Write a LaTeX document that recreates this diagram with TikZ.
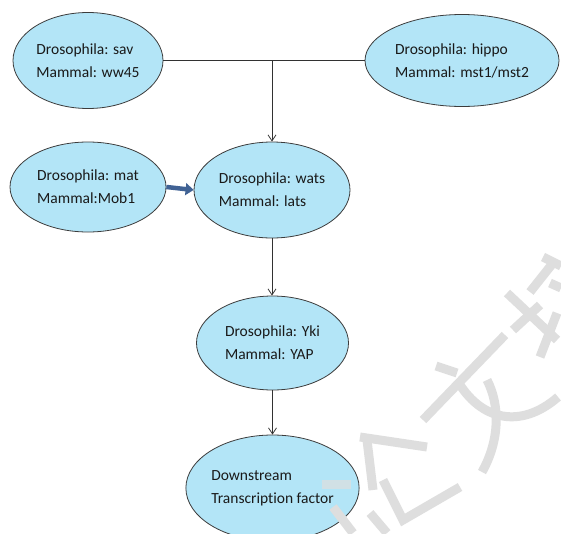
\documentclass[tikz,border=0pt]{standalone}
\usepackage{fontspec}
\setmainfont[Ligatures={NoCommon}]{Carlito}
\usetikzlibrary{shapes.geometric,arrows.meta}
\definecolor{ellfill}{RGB}{179,229,247}
\definecolor{ellline}{RGB}{60,60,60}
\definecolor{connline}{RGB}{50,50,50}
\definecolor{thickarrow}{RGB}{64,98,148}
\definecolor{wmgray}{RGB}{222,222,222}
\definecolor{txt}{RGB}{25,25,25}
\begin{document}
\begin{tikzpicture}[x=1pt,y=-1pt,
  ell/.style={ellipse, draw=ellline, fill=ellfill, line width=0.8pt, inner sep=0pt,
    align=left, text=txt, font=\fontsize{15.5}{23}\selectfont},
  conn/.style={draw=connline, line width=0.8pt},
  arr/.style={conn, -{Straight Barb[length=6pt,width=8pt]}},
  fat/.style={draw=thickarrow, line width=4.5pt, -{Triangle[length=8pt,width=12pt]}},
  wm/.style={draw=wmgray, line width=9pt}]
\useasboundingbox (0,0) rectangle (561,533);
\clip (0,0) rectangle (561,533);
\fill[white] (0,0) rectangle (561,533);

\node[ell, minimum width=150pt, minimum height=96pt] (sav) at (88,60.5) {Drosophila: sav\\Mammal: ww45};
\node[ell, minimum width=194pt, minimum height=92pt] (hippo) at (462,60.5) {Drosophila: hippo\\Mammal: mst1/mst2};
\node[ell, minimum width=156pt, minimum height=90pt] (mat) at (88,187) {Drosophila: mat\\Mammal:Mob1};
\node[ell, minimum width=156pt, minimum height=96pt] (wats) at (272,190) {Drosophila: wats\\Mammal: lats};
\node[ell, minimum width=152pt, minimum height=94pt] (yki) at (272.5,343) {Drosophila: Yki\\Mammal: YAP};
\node[ell, minimum width=160pt, minimum height=106pt] (down) at (272.5,488) {Downstream\\Transcription factor};

\coordinate (j) at (272,60.5);
\draw[conn] (sav.east) -- (hippo.west);
\draw[arr] (j) -- (wats.north);
\draw[fat] (mat.east) -- (wats.west);
\draw[arr] (wats.south) -- (wats.south |- yki.north);
\draw[arr] (yki.south) -- (down.north);

% watermark
\draw[wm] (543,257) -- (561,266);
\draw[wm] (553,263) -- (530,292);
\draw[wm] (550,283) -- (561,288);
\draw[wm] (507,293) -- (557,340);
\draw[wm] (540,305) -- (513,330);
\draw[wm] (557,313) -- (540,357);
\draw[wm] (505,335) -- (423,420);
\draw[wm] (436,366) -- (457,373);
\draw[wm] (457,380) .. controls (480,420) and (520,430) .. (558,397);
\draw[wm] (487,380) .. controls (500,405) and (500,440) .. (482,472);
\draw[wm] (360,437) -- (427,447);
\draw[wm] (367,440) -- (373,490);
\draw[wm] (383,480) -- (403,520) -- (460,487);
\draw[wm] (333,507) -- (353,533);
\draw[wm] (370,513) -- (387,533);
\fill[wmgray, opacity=0.7] (322,480) rectangle (351,489);
\end{tikzpicture}
\end{document}
